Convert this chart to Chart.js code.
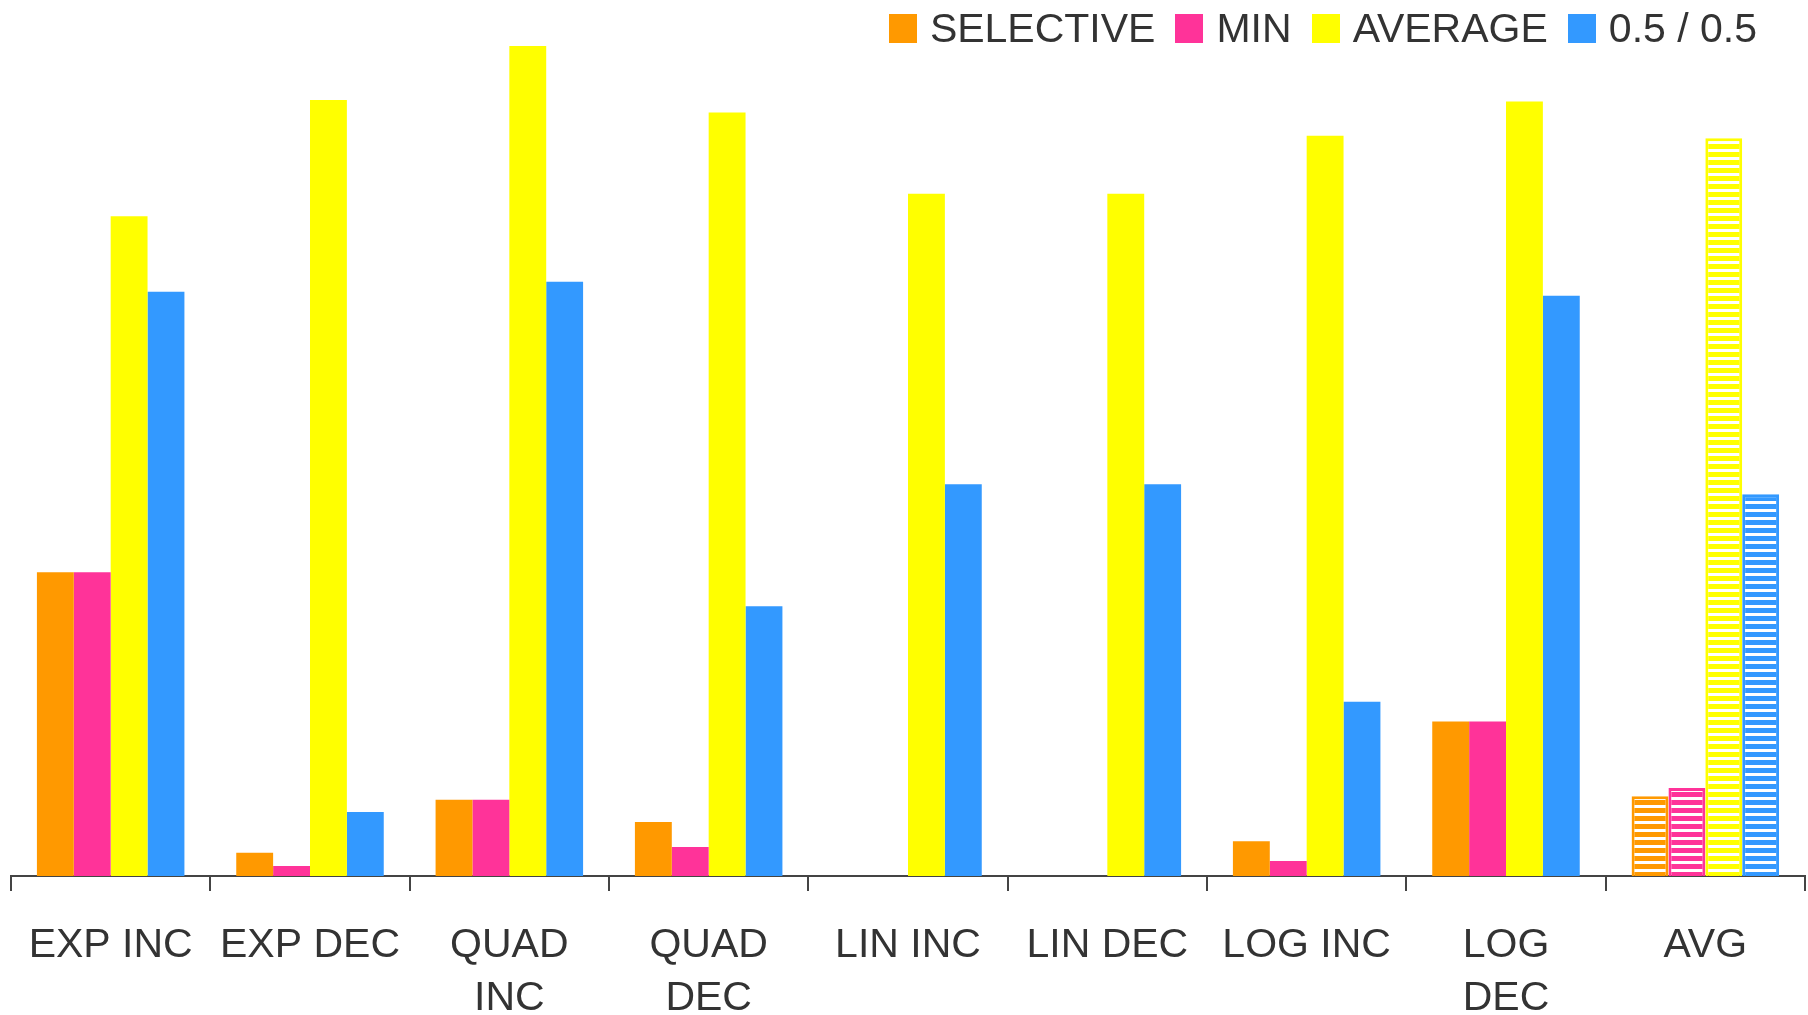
<!DOCTYPE html>
<html>
  <head>
    <meta charset="utf-8">
    <script src="https://cdn.jsdelivr.net/npm/chart.js"></script>
    <style>
      body { margin: 0; background: #fff; }
      .wrap { position: relative; width: 1808px; height: 1015px; }
      #legend {
        position: absolute; top: 8px; right: 51px;
        display: flex; align-items: center;
        font-family: "Liberation Sans", Arial, sans-serif; font-size: 41px; line-height: 41px; color: #333;
      }
      #legend .item { display: flex; align-items: center; margin-left: 20px; }
      #legend .box { width: 28px; height: 29px; margin-right: 13px; }
    </style>
  </head>
  <body>
    <div class="wrap">
      <canvas id="gura" width="1808" height="1015"></canvas>
      <div id="legend"></div>
    </div>
    <script>
      // カテゴリと系列
      const labels = ['EXP INC', 'EXP DEC', ['QUAD', 'INC'], ['QUAD', 'DEC'], 'LIN INC', 'LIN DEC', 'LOG INC', ['LOG', 'DEC'], 'AVG'];
      const seriesNames = ['SELECTIVE', 'MIN', 'AVERAGE', '0.5 / 0.5'];
      const seriesColors = ['#FF9900', '#FF3399', '#FFFF00', '#3399FF'];
      const selective = [36.6, 2.8, 9.2, 6.5, 0, 0, 4.2, 18.6, 9.6];
      const minVals = [36.6, 1.2, 9.2, 3.5, 0, 0, 1.8, 18.6, 10.6];
      const average = [79.5, 93.5, 100, 92.0, 82.2, 82.2, 89.2, 93.3, 88.9];
      const half = [70.4, 7.7, 71.6, 32.5, 47.2, 47.2, 21.0, 69.9, 46.0];
      const avgIndex = 8;

      // AVG用のしましま
      function stripes(color) {
        const c = document.createElement('canvas');
        c.width = 8; c.height = 8;
        const g = c.getContext('2d');
        g.fillStyle = color; g.fillRect(0, 0, 8, 8);
        g.fillStyle = '#ffffff'; g.fillRect(0, 5, 8, 3);
        return g.createPattern(c, 'repeat');
      }

      const values = [selective, minVals, average, half];
      const datasets = values.map(function(v, i) {
        const col = seriesColors[i];
        const pat = stripes(col);
        return {
          label: seriesNames[i],
          data: v,
          backgroundColor: function(ctx) { return ctx.dataIndex === avgIndex ? pat : col; },
          borderColor: col,
          borderWidth: function(ctx) { return ctx.dataIndex === avgIndex ? 3 : 0; },
          categoryPercentage: 0.74,
          barPercentage: 1.0
        };
      });

      // 凡例
      const legend = document.getElementById('legend');
      seriesNames.forEach(function(name, i) {
        const item = document.createElement('div');
        item.className = 'item';
        const box = document.createElement('span');
        box.className = 'box';
        box.style.background = seriesColors[i];
        item.appendChild(box);
        item.appendChild(document.createTextNode(name));
        legend.appendChild(item);
      });

      const ctx = document.getElementById('gura').getContext('2d');
      new Chart(ctx, {
        type: 'bar',
        data: { labels: labels, datasets: datasets },
        options: {
          responsive: false,
          animation: false,
          layout: { padding: { top: 46, left: 11, right: 3, bottom: 0 } },
          plugins: { legend: { display: false }, tooltip: { enabled: false } },
          scales: {
            x: {
              grid: { display: true, drawOnChartArea: false, drawTicks: true, tickLength: 15, color: '#444', lineWidth: 2 },
              border: { display: true, color: '#444', width: 2 },
              ticks: {
                color: '#333', padding: 28, maxRotation: 0, autoSkip: false,
                font: { family: '"Liberation Sans", Arial, sans-serif', size: 41, lineHeight: 1.29 }
              },
              afterFit: function(scale) { scale.height = 139; }
            },
            y: { display: false, min: 0, max: 100 }
          }
        }
      });
    </script>
  </body>
</html>
